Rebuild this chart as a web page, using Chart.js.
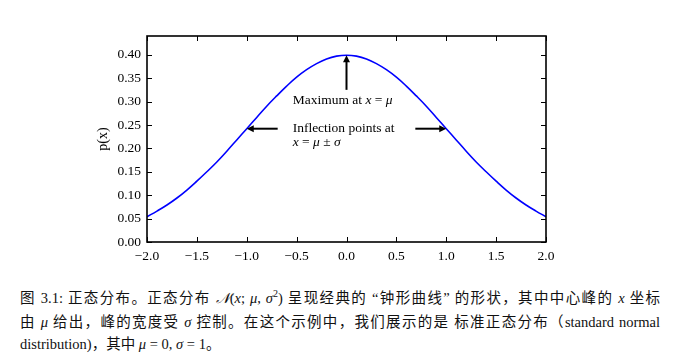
<!DOCTYPE html>
<html>
<head>
<meta charset="utf-8">
<script src="https://cdn.jsdelivr.net/npm/chart.js@4/dist/chart.umd.min.js"></script>
<style>
  html, body { margin: 0; padding: 0; background: #fff; }
  #wrap { position: relative; width: 680px; height: 363px; }
  #cv { position: absolute; left: 0; top: 0; }
  .cap { position: absolute; left: 20px; width: 640px; font-family: "Liberation Serif", "Noto Sans CJK SC", serif; font-size: 14.5px; color: #111; white-space: nowrap; }
  .just { text-align: justify; text-align-last: justify; }
  i { font-family: "Liberation Serif", serif; }
</style>
</head>
<body>
<div id="wrap">
  <canvas id="cv" width="680" height="270"></canvas>
  <div class="cap just" style="top:286px">图 3.1: 正态分布。正态分布 <i>𝒩</i>(<i>x</i>; <i>μ</i>, <i>σ</i><sup style="font-size:10px">2</sup>) 呈现经典的 “钟形曲线” 的形状，其中中心峰的 <i>x</i> 坐标</div>
  <div class="cap just" style="top:310px">由 <i>μ</i> 给出，峰的宽度受 <i>σ</i> 控制。在这个示例中，我们展示的是 标准正态分布（standard normal</div>
  <div class="cap" style="top:332px">distribution)，其中 <i>μ</i> = 0, <i>σ</i> = 1。</div>
</div>
<script>
const xValues = [-2.0,-1.9,-1.8,-1.7,-1.6,-1.5,-1.4,-1.3,-1.2,-1.1,-1.0,-0.9,-0.8,-0.7,-0.6,-0.5,-0.4,-0.3,-0.2,-0.1,0.0,0.1,0.2,0.3,0.4,0.5,0.6,0.7,0.8,0.9,1.0,1.1,1.2,1.3,1.4,1.5,1.6,1.7,1.8,1.9,2.0];
const pValues = [0.054,0.066,0.079,0.094,0.111,0.130,0.150,0.171,0.194,0.218,0.242,0.266,0.290,0.312,0.333,0.352,0.368,0.381,0.391,0.397,0.399,0.397,0.391,0.381,0.368,0.352,0.333,0.312,0.290,0.266,0.242,0.218,0.194,0.171,0.150,0.130,0.111,0.094,0.079,0.066,0.054];
const xTicks = [-2.0,-1.5,-1.0,-0.5,0.0,0.5,1.0,1.5,2.0];
const yTicks = [0.00,0.05,0.10,0.15,0.20,0.25,0.30,0.35,0.40];

const FONT = '"Liberation Serif", serif';
const minus = s => s.replace('-', '\u2212');

function arrow(ctx, x1, y1, x2, y2) {
  const ang = Math.atan2(y2 - y1, x2 - x1);
  const hl = 7, hw = 3.5;
  ctx.save();
  ctx.strokeStyle = '#000'; ctx.fillStyle = '#000'; ctx.lineWidth = 2;
  ctx.beginPath();
  ctx.moveTo(x1, y1);
  ctx.lineTo(x2 - Math.cos(ang) * hl * 0.8, y2 - Math.sin(ang) * hl * 0.8);
  ctx.stroke();
  ctx.beginPath();
  ctx.moveTo(x2, y2);
  ctx.lineTo(x2 - Math.cos(ang) * hl - Math.sin(ang) * hw, y2 - Math.sin(ang) * hl + Math.cos(ang) * hw);
  ctx.lineTo(x2 - Math.cos(ang) * hl + Math.sin(ang) * hw, y2 - Math.sin(ang) * hl - Math.cos(ang) * hw);
  ctx.closePath(); ctx.fill();
  ctx.restore();
}

function mathText(ctx, parts, x, y) {
  let cx = x;
  for (const [t, it] of parts) {
    ctx.font = (it ? 'italic ' : '') + '13.5px ' + FONT;
    ctx.fillText(t, cx, y);
    cx += ctx.measureText(t).width;
  }
}

const framePlugin = {
  id: 'frame',
  afterDatasetsDraw(chart) {
    const { ctx, chartArea: a, scales: { x, y } } = chart;
    ctx.save();
    ctx.strokeStyle = '#000';
    ctx.lineWidth = 1;
    const tl = 5;
    ctx.beginPath();
    xTicks.forEach(v => {
      const px = Math.round(x.getPixelForValue(v)) + 0.5;
      ctx.moveTo(px, a.bottom); ctx.lineTo(px, a.bottom - tl);
      ctx.moveTo(px, a.top); ctx.lineTo(px, a.top + tl);
    });
    yTicks.forEach(v => {
      const py = Math.round(y.getPixelForValue(v)) + 0.5;
      ctx.moveTo(a.left, py); ctx.lineTo(a.left + tl, py);
      ctx.moveTo(a.right, py); ctx.lineTo(a.right - tl, py);
    });
    ctx.stroke();
    ctx.lineWidth = 1.6;
    ctx.strokeRect(a.left, a.top, a.right - a.left, a.bottom - a.top);

    const X = v => x.getPixelForValue(v), Y = v => y.getPixelForValue(v);
    arrow(ctx, X(0), Y(0.325), X(0), Y(0.399));
    arrow(ctx, X(-0.69), Y(0.242), X(-1.0), Y(0.242));
    arrow(ctx, X(0.69), Y(0.242), X(1.0), Y(0.242));
    ctx.fillStyle = '#000';
    ctx.textBaseline = 'middle';
    ctx.textAlign = 'left';
    mathText(ctx, [['Maximum at ', false], ['x', true], [' = ', false], ['μ', true]], X(-0.54), Y(0.303));
    mathText(ctx, [['Inflection points at', false]], X(-0.54), Y(0.242));
    mathText(ctx, [['x', true], [' = ', false], ['μ', true], [' ± ', false], ['σ', true]], X(-0.54), Y(0.212));
    ctx.restore();
  }
};

new Chart(document.getElementById('cv'), {
  type: 'line',
  data: {
    datasets: [{
      data: xValues.map((v, i) => ({ x: v, y: pValues[i] })),
      borderColor: '#0000ff',
      borderWidth: 1.6,
      pointRadius: 0,
      tension: 0.4,
      fill: false
    }]
  },
  options: {
    responsive: false,
    animation: false,
    events: [],
    layout: { padding: { left: 95, right: 134, top: 36, bottom: 0 } },
    plugins: { legend: { display: false }, tooltip: { enabled: false } },
    scales: {
      x: {
        type: 'linear', min: -2, max: 2,
        afterBuildTicks: s => { s.ticks = xTicks.map(v => ({ value: v })); },
        afterFit: s => { s.height = 28; },
        grid: { display: false, drawTicks: false },
        border: { display: false },
        ticks: { color: '#000', padding: 6, font: { family: FONT, size: 13.5 }, callback: v => minus(v.toFixed(1)), maxRotation: 0 }
      },
      y: {
        type: 'linear', min: 0, max: 0.44,
        afterBuildTicks: s => { s.ticks = yTicks.map(v => ({ value: v })); },
        afterFit: s => { s.width = 52; },
        grid: { display: false, drawTicks: false },
        border: { display: false },
        title: { display: true, text: 'p(x)', color: '#000', font: { family: FONT, size: 14 }, padding: 0 },
        ticks: { color: '#000', padding: 6, font: { family: FONT, size: 13.5 }, callback: v => v.toFixed(2) }
      }
    }
  },
  plugins: [framePlugin]
});
</script>
</body>
</html>
